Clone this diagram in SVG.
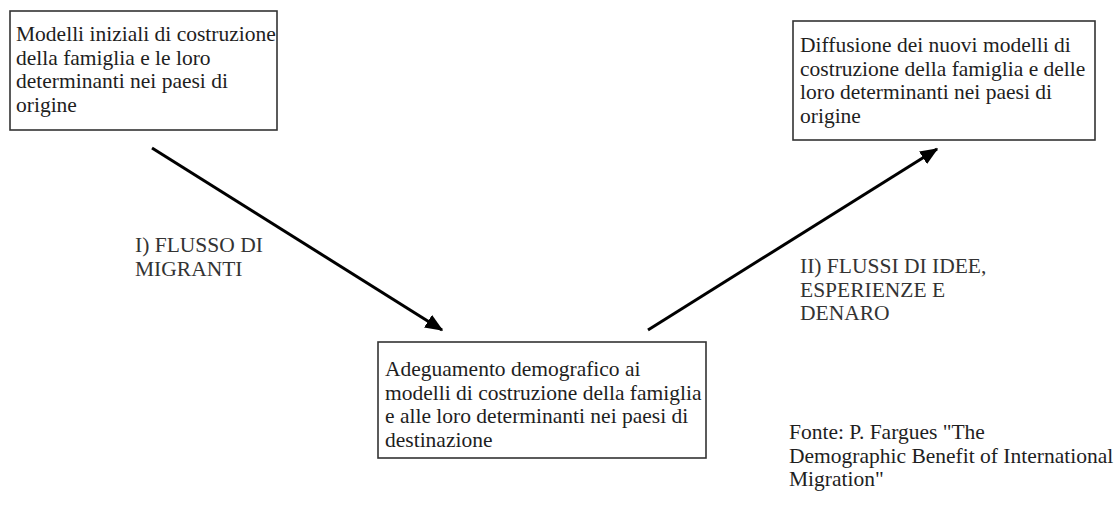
<svg xmlns="http://www.w3.org/2000/svg" width="1116" height="517" viewBox="0 0 1116 517" font-family="'Liberation Serif', 'DejaVu Serif', serif">
<style>
text{font-family:'Liberation Serif','DejaVu Serif',serif;font-size:21.5px;fill:#1e1e1e}
.box{fill:#fff;stroke:#333;stroke-width:1.6}
.lbl{fill:#333}
.arr{stroke:#000;stroke-width:3;fill:none;marker-end:url(#ah)}
</style>
<defs>
<marker id="ah" markerWidth="6" markerHeight="5" refX="5.5" refY="2.5" orient="auto" markerUnits="strokeWidth">
<path d="M0,0 L6,2.5 L0,5 Z" fill="#000"/>
</marker>
</defs>
<rect width="1116" height="517" fill="#fff"/>
<g id="node-origin">
<rect class="box" x="10" y="11" width="267" height="119"/>
<text x="16" y="41">Modelli iniziali di costruzione</text>
<text x="16" y="64.5">della famiglia e le loro</text>
<text x="16" y="88">determinanti nei paesi di</text>
<text x="16" y="111.5">origine</text>
</g>
<g id="node-diffusion">
<rect class="box" x="793" y="21" width="302" height="119"/>
<text x="800" y="52">Diffusione dei nuovi modelli di</text>
<text x="800" y="75.5">costruzione della famiglia e delle</text>
<text x="800" y="99">loro determinanti nei paesi di</text>
<text x="800" y="122.5">origine</text>
</g>
<g id="node-destination">
<rect class="box" x="378" y="342" width="328" height="116"/>
<text x="385" y="376">Adeguamento demografico ai</text>
<text x="385" y="399.5">modelli di costruzione della famiglia</text>
<text x="385" y="423">e alle loro determinanti nei paesi di</text>
<text x="385" y="446.5">destinazione</text>
</g>
<g id="connectors">
<line class="arr" x1="152" y1="148" x2="442" y2="330"/>
<line class="arr" x1="648" y1="330" x2="937" y2="149"/>
</g>
<g id="labels">
<text class="lbl" x="135" y="252">I) FLUSSO DI</text>
<text class="lbl" x="135" y="275.5">MIGRANTI</text>
<text class="lbl" x="800" y="273">II) FLUSSI DI IDEE,</text>
<text class="lbl" x="800" y="296.5">ESPERIENZE E</text>
<text class="lbl" x="800" y="320">DENARO</text>
</g>
<g id="source">
<text x="789" y="439">Fonte: P. Fargues "The</text>
<text x="789" y="462.5">Demographic Benefit of International</text>
<text x="789" y="486">Migration"</text>
</g>
</svg>
